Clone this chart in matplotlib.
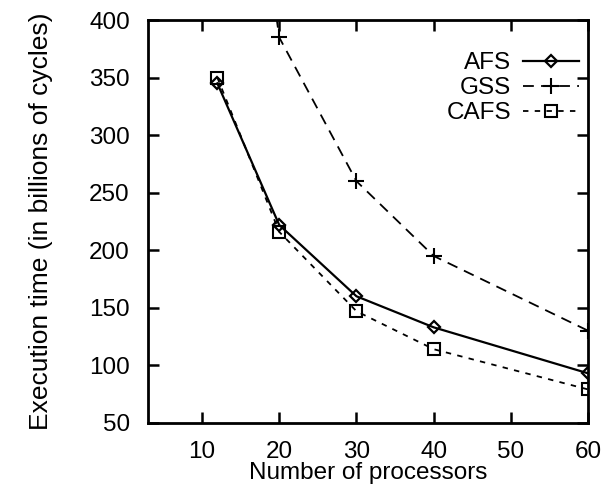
import matplotlib
matplotlib.use("Agg")
import matplotlib.pyplot as plt

processors = [12, 20, 30, 40, 60]
afs = [345, 222, 160, 133, 93]
gss = [780, 385, 260, 195, 130]
cafs = [350, 216, 147, 114, 79]
x_ticks = [10, 20, 30, 40, 50, 60]
y_ticks = [50, 100, 150, 200, 250, 300, 350, 400]

plt.rcParams['font.family'] = ['Liberation Sans', 'DejaVu Sans']

fig = plt.figure(figsize=(6.16, 4.9), dpi=100)
ax = fig.add_axes([0.240, 0.137, 0.715, 0.822])

ax.plot(processors, afs, color='black', lw=1.6, ls='-', marker='D', ms=6,
        mfc='none', mec='black', mew=1.6, label='AFS')
ax.plot(processors, gss, color='black', lw=1.3, ls=(0, (6, 4)), marker='+', ms=11,
        mew=1.5, label='GSS')
ax.plot(processors, cafs, color='black', lw=1.3, ls=(0, (3, 3.5)), marker='s', ms=8,
        mfc='none', mec='black', mew=1.5, label='CAFS')

ax.set_xlim(3, 60)
ax.set_ylim(50, 400)
ax.set_xticks(x_ticks)
ax.set_yticks(y_ticks)
ax.tick_params(direction='in', top=True, right=True, length=8, width=1.8,
               labelsize=17.5)
ax.tick_params(axis='y', pad=13)
ax.tick_params(axis='x', pad=13)
for s in ax.spines.values():
    s.set_linewidth(2.0)

ax.set_xlabel('Number of processors', fontsize=17.5, labelpad=-1)
ax.set_ylabel('Execution time (in billions of cycles)', fontsize=19, labelpad=26)

leg = ax.legend(loc='upper right', bbox_to_anchor=(1.018, 0.962), frameon=False,
                markerfirst=False, fontsize=17.5, handlelength=2.3,
                labelspacing=0.12, handletextpad=0.5, borderaxespad=0.3)
for t in leg.get_texts():
    t.set_ha('right')

fig.savefig('out.png', dpi=100)
